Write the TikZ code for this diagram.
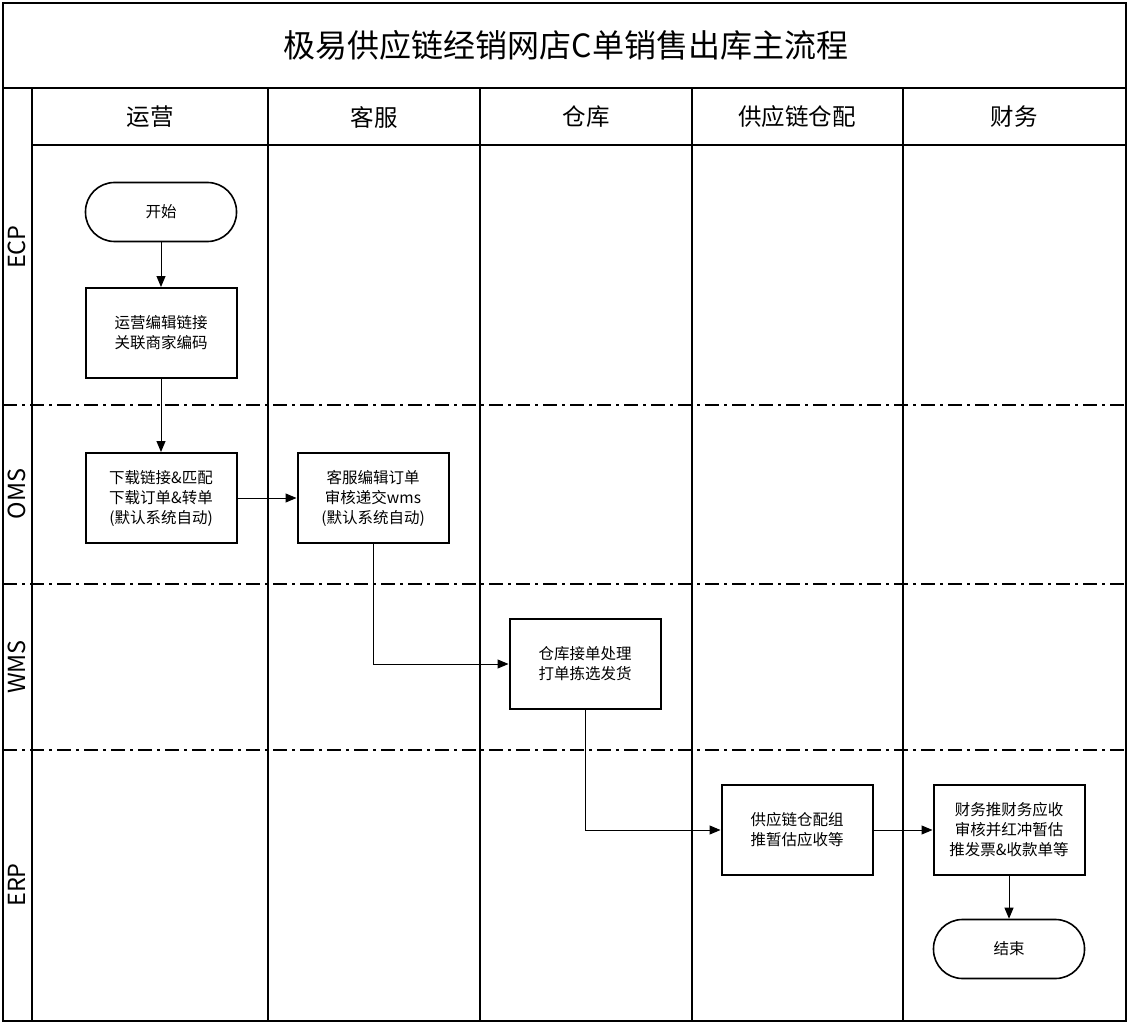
\documentclass[tikz,border=0pt]{standalone}
\usepackage{fontspec}
\setmainfont{Noto Sans CJK SC}
\usetikzlibrary{arrows.meta}

\begin{document}
\begin{tikzpicture}[x=1pt,y=-1pt,
    frame/.style={black,line width=2pt},
    lanesep/.style={black,line width=2pt,dash pattern=on 14pt off 5pt on 3pt off 5pt},
    head/.style={font=\fontsize{23.5}{26}\selectfont},
    task/.style={draw,line width=2pt,minimum width=151pt,minimum height=90pt,inner sep=0pt,
      align=center,font=\fontsize{15.5}{20}\selectfont},
    term/.style={draw,line width=1.6pt,minimum width=151pt,minimum height=59pt,inner sep=0pt,
      rounded corners=29pt,font=\fontsize{15.5}{20}\selectfont},
    flow/.style={black,line width=1pt,-{Triangle[length=11pt,width=9pt]}}]
    \useasboundingbox (0,0) rectangle (1129,1024);
    % frame and swimlanes
    \draw [frame] (3,3) rectangle (1126,1021);
    \draw [frame] (3,88) -- (1126,88);
    \draw [frame] (32,145) -- (1126,145);
    \foreach \x in {32,268,480,692,903}
      \draw [frame] (\x,88) -- (\x,1021);
    \foreach \y in {405,584,750}
      \draw [lanesep] (3,\y) -- (1126,\y);
    \node (title) at (566,45) {\fontsize{32}{34}\selectfont 极易供应链经销网店C单销售出库主流程};
    \node [head] (hyy) at (150,117) {运营};
    \node [head] (hkf) at (374,117) {客服};
    \node [head] (hck) at (586,117) {仓库};
    \node [head] (hgy) at (797,117) {供应链仓配};
    \node [head] (hcw) at (1014,117) {财务};
    \node [head,rotate=90] (lecp) at (17,247) {ECP};
    \node [head,rotate=90] (loms) at (17,494) {OMS};
    \node [head,rotate=90] (lwms) at (17,667) {WMS};
    \node [head,rotate=90] (lerp) at (17,885) {ERP};
    % steps
    \node [term] (start) at (161,212) {开始};
    \node [task] (link) at (161,333) {运营编辑链接\\关联商家编码};
    \node [task] (down) at (161,498) {下载链接\&匹配\\下载订单\&转单\\(默认系统自动)};
    \node [task] (edit) at (373,498) {客服编辑订单\\审核递交wms\\(默认系统自动)};
    \node [task] (pick) at (585,664) {仓库接单处理\\打单拣选发货};
    \node [task] (scm) at (797,830) {供应链仓配组\\推暂估应收等};
    \node [task] (fin) at (1009,830) {财务推财务应收\\审核并红冲暂估\\推发票\&收款单等};
    \node [term] (stop) at (1009,949) {结束};
    % connectors
    \draw [flow] (start) -- (link);
    \draw [flow] (link) -- (down);
    \draw [flow] (down) -- (edit);
    \draw [flow] (edit.south) |- (pick.west);
    \draw [flow] (pick.south) |- (scm.west);
    \draw [flow] (scm) -- (fin);
    \draw [flow] (fin) -- (stop);
\end{tikzpicture}
\end{document}
